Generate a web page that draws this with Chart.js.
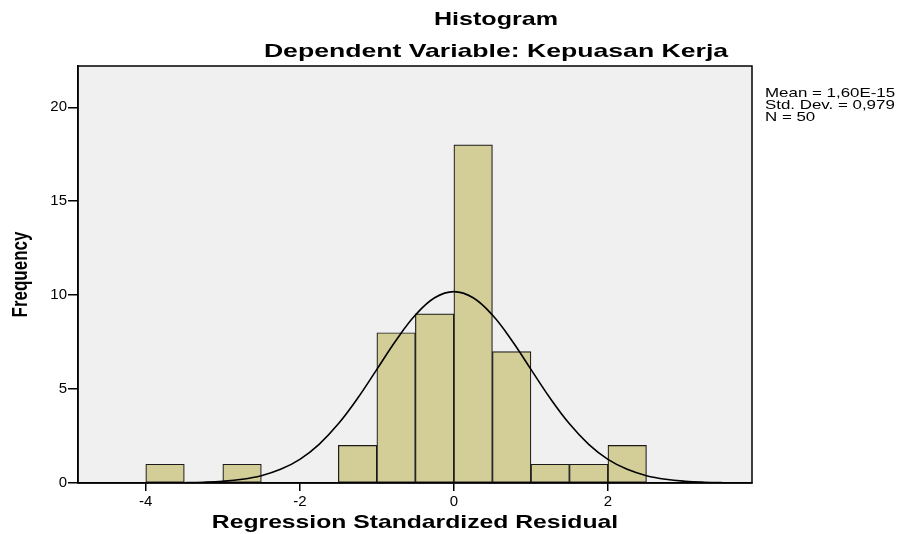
<!DOCTYPE html>
<html>
<head>
    <title>Histogram</title>
    <script src='https://cdn.jsdelivr.net/npm/chart.js'></script>
    <style>
        body { margin: 0; background: #fff; }
        #wrap { width: 903px; height: 534px; }
    </style>
</head>
<body>
    <div id="wrap">
        <canvas id="histChart" width="903" height="534"></canvas>
    </div>
    <script>
        // histogram bins (centre of each 0.5 wide bin) and frequencies
        const binCenters = [-3.75, -2.75, -1.25, -0.75, -0.25, 0.25, 0.75, 1.25, 1.75, 2.25];
        const binCounts = [1, 1, 2, 8, 9, 18, 7, 1, 1, 2];

        // normal curve
        const curveX = [-4.88, -4.75, -4.5, -4.25, -4, -3.75, -3.5, -3.25, -3, -2.75, -2.5, -2.25, -2, -1.75, -1.5, -1.25, -1, -0.75, -0.5, -0.25,
            0, 0.25, 0.5, 0.75, 1, 1.25, 1.5, 1.75, 2, 2.25, 2.5, 2.75, 3, 3.25, 3.5, 3.75, 3.87];
        const curveY = [0, 0.0001, 0.0003, 0.0008, 0.0024, 0.0066, 0.017, 0.041, 0.093, 0.197, 0.391, 0.727, 1.26, 2.06, 3.15, 4.51, 6.05, 7.60, 8.94, 9.86,
            10.19, 9.86, 8.94, 7.60, 6.05, 4.51, 3.15, 2.06, 1.26, 0.727, 0.391, 0.197, 0.093, 0.041, 0.017, 0.0066, 0.004];

        const xTicks = [-4, -2, 0, 2];
        const yTicks = [0, 5, 10, 15, 20];

        const titleText = 'Histogram';
        const subtitleText = 'Dependent Variable: Kepuasan Kerja';
        const xTitle = 'Regression Standardized Residual';
        const yTitle = 'Frequency';
        const statsLines = ['Mean = 1,60E-15', 'Std. Dev. = 0,979', 'N = 50'];

        const FONT = "'Liberation Sans', Arial, sans-serif";

        // draws text widened horizontally like the SPSS export
        function stretchedText(ctx, text, x, y, font, align, stretch, rotate) {
            ctx.save();
            ctx.font = font;
            ctx.fillStyle = '#000';
            ctx.textAlign = align;
            ctx.textBaseline = 'middle';
            ctx.translate(x, y);
            if (rotate) {
                ctx.rotate(-Math.PI / 2);
                ctx.scale(1, stretch);
            } else {
                ctx.scale(stretch, 1);
            }
            ctx.fillText(text, 0, 0);
            ctx.restore();
        }

        const frame = {
            id: 'frame',
            beforeDraw(chart) {
                const { ctx, chartArea: a } = chart;
                ctx.save();
                ctx.fillStyle = '#f0f0f0';
                ctx.fillRect(a.left, a.top, a.right - a.left, a.bottom - a.top);
                ctx.restore();
            },
            afterDraw(chart) {
                const { ctx, chartArea: a } = chart;
                ctx.save();
                ctx.strokeStyle = '#000';
                ctx.lineWidth = 1.5;
                ctx.strokeRect(a.left, a.top, a.right - a.left, a.bottom - a.top);
                ctx.restore();

                const boldBig = 'bold 19px ' + FONT;
                stretchedText(ctx, titleText, 496, 20, boldBig, 'center', 1.32);
                stretchedText(ctx, subtitleText, 496, 52, boldBig, 'center', 1.4);
                stretchedText(ctx, xTitle, (a.left + a.right) / 2, 523, boldBig, 'center', 1.3);
                stretchedText(ctx, yTitle, 21, (a.top + a.bottom) / 2, 'bold 17px ' + FONT, 'center', 1.3, true);
                statsLines.forEach((s, i) => {
                    stretchedText(ctx, s, 765, 93 + i * 12, '13px ' + FONT, 'left', 1.3);
                });
            }
        };

        new Chart(document.getElementById('histChart').getContext('2d'), {
            data: {
                datasets: [{
                    type: 'line',
                    data: curveX.map((x, i) => ({ x: x, y: curveY[i] })),
                    borderColor: '#000',
                    borderWidth: 1.6,
                    pointRadius: 0,
                    tension: 0.4,
                    fill: false,
                    order: 0
                }, {
                    type: 'bar',
                    data: binCenters.map((x, i) => ({ x: x, y: binCounts[i] })),
                    backgroundColor: '#d3ce98',
                    borderColor: '#1a1a1a',
                    borderWidth: 1.2,
                    borderSkipped: false,
                    barPercentage: 1,
                    categoryPercentage: 1,
                    order: 1
                }]
            },
            options: {
                responsive: false,
                animation: false,
                layout: { padding: { top: 66, right: 151, left: 0, bottom: 0 } },
                plugins: {
                    legend: { display: false },
                    tooltip: { enabled: false }
                },
                scales: {
                    x: {
                        type: 'linear',
                        min: -4.88,
                        max: 3.87,
                        offset: false,
                        afterBuildTicks: s => { s.ticks = xTicks.map(v => ({ value: v })); },
                        afterFit: s => { s.height = 51; },
                        grid: { offset: false, drawOnChartArea: false, tickLength: 8, color: '#000', lineWidth: 1.5 },
                        border: { color: '#000', width: 1.5 },
                        ticks: { color: '#000', font: { family: FONT, size: 15 }, padding: 2 }
                    },
                    y: {
                        type: 'linear',
                        min: 0,
                        max: 22.2,
                        afterBuildTicks: s => { s.ticks = yTicks.map(v => ({ value: v })); },
                        afterFit: s => { s.width = 78; },
                        grid: { drawOnChartArea: false, tickLength: 10, color: '#000', lineWidth: 1.5 },
                        border: { color: '#000', width: 1.5 },
                        ticks: { color: '#000', font: { family: FONT, size: 15 }, padding: 1 }
                    }
                }
            },
            plugins: [frame]
        });
    </script>
</body>
</html>
